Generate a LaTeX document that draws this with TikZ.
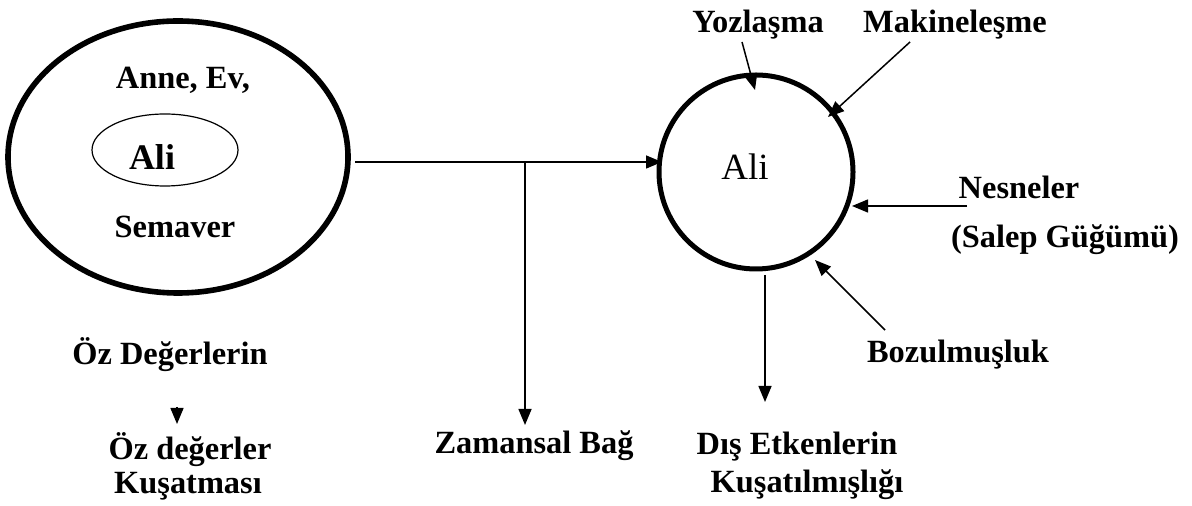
\documentclass[tikz,border=0pt]{standalone}
\usepackage{fontspec}
\setmainfont{Liberation Serif}
\usetikzlibrary{arrows.meta,shapes.geometric}

\tikzset{
  lbl/.style={font=\fontsize{16.2}{19}\selectfont\bfseries, inner sep=0pt},
  arr/.style={line width=0.75pt, -{Triangle[length=8pt,width=6.5pt]}},
  ln/.style={line width=0.75pt}
}

\begin{document}
\begin{tikzpicture}[x=0.5pt, y=-0.5pt]
        \useasboundingbox (0,0) rectangle (1192,506);
        % left group
        \node[ellipse, draw, line width=2.8pt, minimum width=170pt, minimum height=136pt, inner sep=0pt] (outer) at (178,157) {};
        \node[ellipse, draw, line width=0.6pt, minimum width=73pt, minimum height=36pt, inner sep=0pt] (inner) at (165,150) {};
        \node[font=\fontsize{18}{20}\selectfont\bfseries, inner sep=0pt] (aliin) at (152,157) {Ali};
        \node[lbl] (ev)  at (183,80)  {Anne, Ev,};
        \node[lbl] (sem) at (175,227) {Semaver};
        \node[lbl] (ozd) at (170,355) {Öz Değerlerin};
        \node[lbl] (ozk) at (190,450) {Öz değerler};
        \node[lbl] (kus) at (188,486) {Kuşatması};
        % right group
        \node[circle, draw, line width=2.5pt, minimum size=97pt, inner sep=0pt] (circ) at (756,172) {};
        \node[font=\fontsize{18.5}{21}\selectfont, inner sep=0pt] (alir) at (745,167) {Ali};
        \node[lbl] (yoz) at (758,25)  {Yozlaşma};
        \node[lbl] (mak) at (955,25)  {Makineleşme};
        \node[lbl] (nes) at (1019,187) {Nesneler};
        \node[lbl] (sal) at (1065,240) {(Salep Güğümü)};
        \node[lbl] (boz) at (958,355) {Bozulmuşluk};
        \node[lbl] (dis) at (797,447) {Dış Etkenlerin};
        \node[lbl] (kusd) at (807,485) {Kuşatılmışlığı};
        \node[lbl] (zam) at (534,446) {Zamansal Bağ};
        % connector ends
        \coordinate (h0) at (355,162);
        \coordinate (br) at (525,162);
        \coordinate (h1) at (662,162);
        \coordinate (z1) at (525,425);
        \coordinate (y0) at (742,42);
        \coordinate (y1) at (755,90);
        \coordinate (m0) at (910,42);
        \coordinate (m1) at (828,117);
        \coordinate (n0) at (967,206);
        \coordinate (n1) at (852,206);
        \coordinate (b0) at (885,330);
        \coordinate (b1) at (815,260);
        \coordinate (d0) at (765,275);
        \coordinate (d1) at (765,402);
        \coordinate (o0) at (177,407);
        \coordinate (o1) at (177,424);
        % connectors
        \draw[ln]  (h0) -- (br);
        \draw[arr] (br) -- (h1);
        \draw[arr] (br) -- (z1);
        \draw[arr] (y0) -- (y1);
        \draw[arr] (m0) -- (m1);
        \draw[arr] (n0) -- (n1);
        \draw[arr] (b0) -- (b1);
        \draw[arr] (d0) -- (d1);
        \draw[arr] (o0) -- (o1);
\end{tikzpicture}
\end{document}
